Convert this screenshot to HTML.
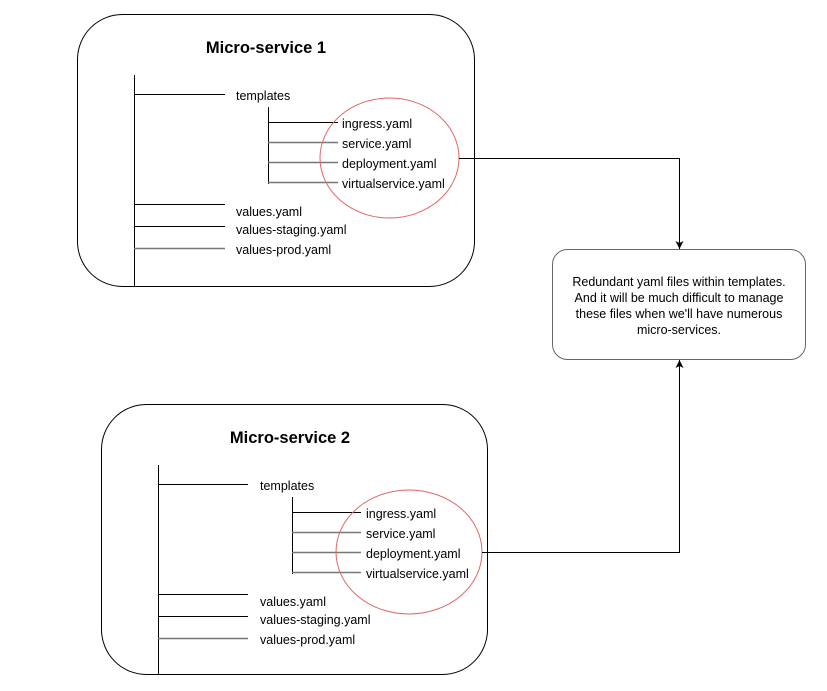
<!DOCTYPE html>
<html><head><style>body{margin:0;background:#fff}svg{display:block}text{font-family:"Liberation Sans",Arial,sans-serif;font-size:12.5px;fill:#000}</style></head><body>
<svg width="827" height="691" viewBox="0 0 827 691" xmlns="http://www.w3.org/2000/svg">
<defs><marker id="a" markerWidth="10" markerHeight="10" refX="8" refY="4" orient="auto" markerUnits="userSpaceOnUse"><path d="M0,0 L8,4 L0,8 L2,4 Z" fill="#000"/></marker></defs>
<!-- Box 1 -->
<rect x="77.5" y="14.5" width="397" height="272" rx="45" fill="#fff" stroke="#000"/>
<text x="266" y="53" text-anchor="middle" style="font-size:16.5px;font-weight:bold">Micro-service 1</text>
<g stroke="#000" stroke-width="1">
<line x1="134.5" y1="75" x2="134.5" y2="286"/>
<line x1="134" y1="94.5" x2="225" y2="94.5"/>
<line x1="268.5" y1="107" x2="268.5" y2="184"/>
<line x1="268" y1="122.5" x2="338" y2="122.5"/>
<line x1="268" y1="142.5" x2="338" y2="142.5" stroke="#777" stroke-width="1.6"/>
<line x1="268" y1="162.5" x2="338" y2="162.5" stroke="#777" stroke-width="1.6"/>
<line x1="268" y1="182.5" x2="338" y2="182.5" stroke="#777" stroke-width="1.6"/>
<line x1="134" y1="204.5" x2="225" y2="204.5"/>
<line x1="134" y1="226.5" x2="225" y2="226.5"/>
<line x1="134" y1="248.5" x2="225" y2="248.5" stroke="#777" stroke-width="1.6"/>
</g>
<text x="236" y="100">templates</text>
<text x="342" y="128">ingress.yaml</text>
<text x="342" y="148">service.yaml</text>
<text x="342" y="168">deployment.yaml</text>
<text x="342" y="188">virtualservice.yaml</text>
<text x="236" y="216">values.yaml</text>
<text x="236" y="234">values-staging.yaml</text>
<text x="236" y="254">values-prod.yaml</text>
<ellipse cx="389.5" cy="158" rx="69.5" ry="60" fill="none" stroke="#e06666"/>
<!-- Box 2 -->
<rect x="101.5" y="404.5" width="386" height="270" rx="45" fill="#fff" stroke="#000"/>
<text x="290" y="443" text-anchor="middle" style="font-size:16.5px;font-weight:bold">Micro-service 2</text>
<g stroke="#000" stroke-width="1">
<line x1="158.5" y1="465" x2="158.5" y2="674"/>
<line x1="158" y1="484.5" x2="248" y2="484.5"/>
<line x1="292.5" y1="497" x2="292.5" y2="574"/>
<line x1="292" y1="512.5" x2="361" y2="512.5"/>
<line x1="292" y1="532.5" x2="361" y2="532.5" stroke="#777" stroke-width="1.6"/>
<line x1="292" y1="552.5" x2="361" y2="552.5" stroke="#777" stroke-width="1.6"/>
<line x1="292" y1="572.5" x2="361" y2="572.5" stroke="#777" stroke-width="1.6"/>
<line x1="158" y1="594.5" x2="248" y2="594.5"/>
<line x1="158" y1="616.5" x2="248" y2="616.5"/>
<line x1="158" y1="638.5" x2="248" y2="638.5" stroke="#777" stroke-width="1.6"/>
</g>
<text x="260" y="490">templates</text>
<text x="366" y="518">ingress.yaml</text>
<text x="366" y="538">service.yaml</text>
<text x="366" y="558">deployment.yaml</text>
<text x="366" y="578">virtualservice.yaml</text>
<text x="260" y="606">values.yaml</text>
<text x="260" y="624">values-staging.yaml</text>
<text x="260" y="644">values-prod.yaml</text>
<ellipse cx="409" cy="552" rx="73" ry="62" fill="none" stroke="#e06666"/>
<!-- Note box -->
<rect x="552.5" y="249.5" width="253" height="110" rx="15" fill="#fff" stroke="#666"/>
<g text-anchor="middle">
<text x="679" y="286">Redundant yaml files within templates.</text>
<text x="679" y="302">And it will be much difficult to manage</text>
<text x="679" y="318">these files when we'll have numerous</text>
<text x="679" y="334">micro-services.</text>
</g>
<!-- Connectors -->
<polyline points="459,158.5 679.5,158.5 679.5,249" fill="none" stroke="#000" marker-end="url(#a)"/>
<polyline points="482,552.5 679.5,552.5 679.5,360" fill="none" stroke="#000" marker-end="url(#a)"/>
</svg>
</body></html>
